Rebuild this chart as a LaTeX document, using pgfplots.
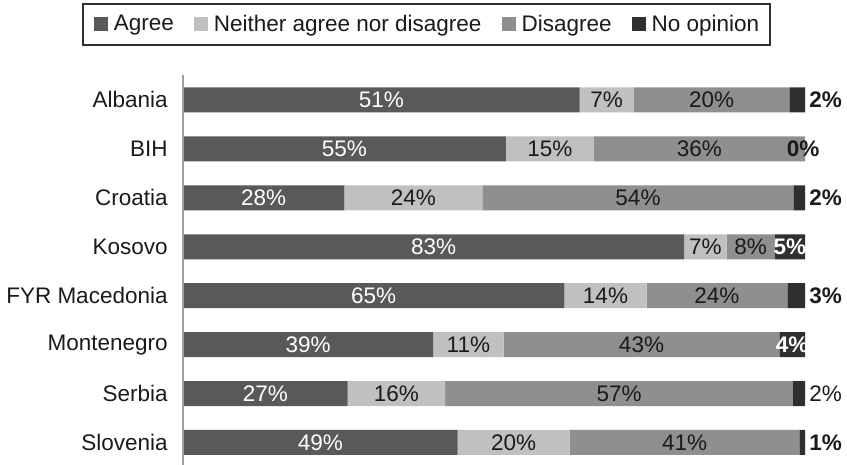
\documentclass[border=0pt]{standalone}
\usepackage{pgfplots}
\pgfplotsset{compat=1.18}
\usepackage{pgfplotstable}
\usepackage{fontspec}
\setmainfont{Liberation Sans}
\definecolor{cAgree}{HTML}{595959}
\definecolor{cNeither}{HTML}{C0C0C0}
\definecolor{cDis}{HTML}{8E8F91}
\definecolor{cNo}{HTML}{2F2F2F}
\definecolor{cText}{HTML}{1A1A1A}
\definecolor{cAxis}{HTML}{A0A0A0}
\newcommand{\basefont}{\fontsize{11.25bp}{13.5bp}\selectfont}

% normalised shares (a n d o) and printed values (ra rn rd ro)
\pgfplotstableread{
row a n d o ra rn rd ro
0 63.75 8.75 25.00 2.50 51 7 20 2
1 51.89 14.15 33.96 0.00 55 15 36 0
2 25.93 22.22 50.00 1.85 28 24 54 2
3 80.58 6.80 7.77 4.85 83 7 8 5
4 61.32 13.21 22.64 2.83 65 14 24 3
5 40.21 11.34 44.33 4.12 39 11 43 4
6 26.47 15.69 55.88 1.96 27 16 57 2
7 44.14 18.02 36.94 0.90 49 20 41 1
}\data

\begin{document}
\begin{tikzpicture}[font=\basefont]
\path[use as bounding box] (-91.5bp,0bp) rectangle (332bp,232.5bp);
\pgfplotsset{base/.style={scale only axis, width=311bp, height=195bp,
  xmin=0, xmax=100, ymin=-0.51, ymax=7.46, y dir=reverse,
  at={(0,0)}, anchor=south west}}
\begin{axis}[base,
  xbar stacked, bar width=12.5bp,
  axis on top,
  axis x line=none, axis y line*=left,
  y axis line style={draw=cAxis, line width=1bp},
  ytick={0,...,7},
  yticklabels={Albania,BIH,Croatia,Kosovo,FYR Macedonia,Montenegro,Serbia,Slovenia},
  major tick length=0pt,
  yticklabel style={inner xsep=0pt, xshift=-7.5bp, text=cText},
  legend columns=4,
  legend image code/.code={\fill[#1] (0bp,-3.5bp) rectangle (7bp,3.5bp);},
  legend style={at={(0.3915,1.1295)}, anchor=center, draw=cNo, line width=0.7bp,
    text=cText, inner xsep=5.5bp, inner ysep=4.5bp,
    nodes={inner xsep=0pt, inner ysep=1bp},
    /tikz/every odd column/.append style={column sep=3bp},
    /tikz/every even column/.append style={column sep=10bp}},
]
\addplot[fill=cAgree, draw=none] table[x=a, y=row]{\data};
\addplot[fill=cNeither, draw=none] table[x=n, y=row]{\data};
\addplot[fill=cDis, draw=none] table[x=d, y=row]{\data};
\addplot[fill=cNo, draw=none] table[x=o, y=row]{\data};
\legend{Agree, Neither agree nor disagree, Disagree, No opinion}
\end{axis}

\begin{axis}[base, hide axis, clip=false,
  nodes near coords={\pgfplotspointmeta\%},
  point meta=explicit symbolic]
\addplot[draw=none, mark=none, every node near coord/.append style={anchor=center, text=white}]
  table[x expr=\thisrow{a}/2, y=row, meta=ra]{\data};
\addplot[draw=none, mark=none, every node near coord/.append style={anchor=center, text=cText}]
  table[x expr=\thisrow{a}+\thisrow{n}/2, y=row, meta=rn]{\data};
\addplot[draw=none, mark=none, every node near coord/.append style={anchor=center, text=cText}]
  table[x expr=\thisrow{a}+\thisrow{n}+\thisrow{d}/2, y=row, meta=rd]{\data};
% No opinion labels
\addplot[draw=none, mark=none, every node near coord/.append style={anchor=west, inner xsep=0pt, xshift=2bp, text=cText, font=\basefont\bfseries}]
  coordinates {(100,0) [2] (100,2) [2] (100,4) [3] (100,7) [1]};
\addplot[draw=none, mark=none, every node near coord/.append style={anchor=west, inner xsep=0pt, xshift=2bp, text=cText, font=\basefont}]
  coordinates {(100,6) [2]};
\addplot[draw=none, mark=none, every node near coord/.append style={anchor=center, text=cText, font=\basefont\bfseries}]
  coordinates {(99.7,1) [0]};
\addplot[draw=none, mark=none, every node near coord/.append style={anchor=center, text=white, font=\basefont\bfseries}]
  coordinates {(97.58,3) [5] (97.94,5) [4]};
\end{axis}
\end{tikzpicture}
\end{document}
